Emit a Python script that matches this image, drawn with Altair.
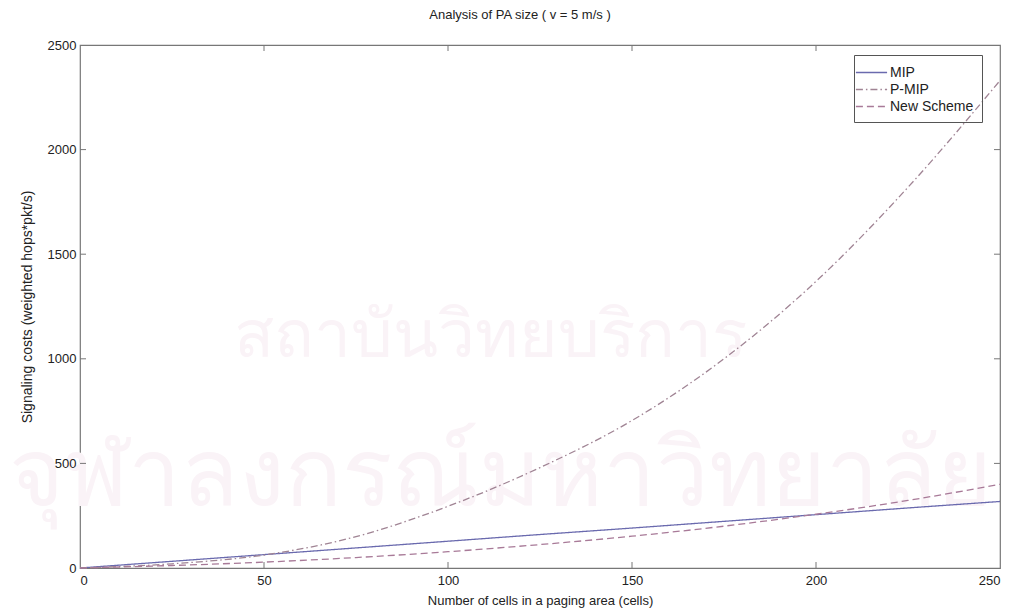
import altair as alt
import pandas as pd

# ---- data ----
cells = [0, 25, 50, 75, 100, 125, 150, 175, 200, 225, 250]
mip = [0, 32, 64, 96, 128, 160, 191, 223, 255, 287, 318]
pmip = [0, 20, 62, 150, 295, 480, 705, 1000, 1370, 1820, 2330]
new_scheme = [0, 12, 28, 50, 78, 112, 152, 200, 257, 323, 400]
series_names = ["MIP", "P-MIP", "New Scheme"]
series_colors = ["#6a6aae", "#a08494", "#a87a98"]
series_dash = [[1, 0], [7, 3, 1.5, 3], [7, 4]]

x_ticks = [0, 50, 100, 150, 200, 250]
y_ticks = [0, 500, 1000, 1500, 2000, 2500]

W, H = 920, 523
font = "Liberation Sans"
txt = "#222"

rows = []
for name, vals in zip(series_names, [mip, pmip, new_scheme]):
    for c, v in zip(cells, vals):
        rows.append({"cells": c, "cost": v, "series": name})
df = pd.DataFrame(rows)

xs = alt.Scale(domain=[0, 250], nice=False)
ys = alt.Scale(domain=[0, 2500], nice=False)

axis_common = dict(ticks=False, domain=False, grid=False, labelFont=font, titleFont=font,
                   labelFontSize=13, labelColor=txt, titleColor=txt,
                   titleFontWeight="normal", format="d", zindex=1)

lines = alt.Chart(df).mark_line(strokeWidth=1.3, interpolate="monotone").encode(
    x=alt.X("cells:Q", scale=xs,
            axis=alt.Axis(values=x_ticks, title="Number of cells in a paging area (cells)",
                          labelPadding=6, titlePadding=7, titleFontSize=13, **axis_common)),
    y=alt.Y("cost:Q", scale=ys,
            axis=alt.Axis(values=y_ticks, title="Signaling costs (weighted hops*pkt/s)",
                          labelPadding=4, titlePadding=13, titleFontSize=14, **axis_common)),
    color=alt.Color("series:N", sort=series_names,
                    scale=alt.Scale(domain=series_names, range=series_colors),
                    legend=alt.Legend(title=None, orient="none", legendX=774, legendY=10,
                                      symbolType="M-1.8,0H1.8", symbolSize=300,
                                      symbolStrokeWidth=1.3,
                                      strokeColor="#555", padding=8, labelFontSize=14,
                                      labelFont=font, labelColor=txt, labelOffset=9,
                                      rowPadding=0)),
    strokeDash=alt.StrokeDash("series:N", sort=series_names,
                              scale=alt.Scale(domain=series_names, range=series_dash),
                              legend=None),
)

# inward tick marks (MATLAB style)
xt = pd.DataFrame({"t": x_ticks[1:-1]})
yt = pd.DataFrame({"t": y_ticks[1:-1]})
tick_color = "#777"
bt = alt.Chart(xt).mark_rule(color=tick_color).encode(
    x=alt.X("t:Q", scale=xs), y=alt.value(H), y2=alt.value(H - 6))
tt = alt.Chart(xt).mark_rule(color=tick_color).encode(
    x=alt.X("t:Q", scale=xs), y=alt.value(0), y2=alt.value(6))
lt = alt.Chart(yt).mark_rule(color=tick_color).encode(
    y=alt.Y("t:Q", scale=ys), x=alt.value(0), x2=alt.value(6))
rt = alt.Chart(yt).mark_rule(color=tick_color).encode(
    y=alt.Y("t:Q", scale=ys), x=alt.value(W), x2=alt.value(W - 6))

# faint watermark from the scanned page
wm_color = "#faf3f7"
wm1 = alt.Chart(pd.DataFrame({"s": ["สถาบันวิทยบริการ"]})).mark_text(
    fontSize=66, color=wm_color, align="center", baseline="middle").encode(
    text="s:N", x=alt.value(410), y=alt.value(292))
wm2 = alt.Chart(pd.DataFrame({"s": ["จุฬาลงกรณ์มหาวิทยาลัย"]})).mark_text(
    fontSize=94, color=wm_color, align="center", baseline="middle").encode(
    text="s:N", x=alt.value(420), y=alt.value(432))

chart = alt.layer(wm1, wm2, lines, bt, tt, lt, rt).properties(
    width=W, height=H,
    title=alt.TitleParams("Analysis of PA size ( v = 5 m/s )", fontSize=13,
                          fontWeight="normal", font=font, color=txt,
                          anchor="middle", offset=17, dx=-20),
    autosize=alt.AutoSizeParams(type="none"),
    padding={"left": 80, "top": 45, "right": 16, "bottom": 46},
    background="white",
).configure_view(stroke="#777", strokeWidth=1.2)

chart.save("out.html", embed_options={"renderer": "svg", "actions": False})
